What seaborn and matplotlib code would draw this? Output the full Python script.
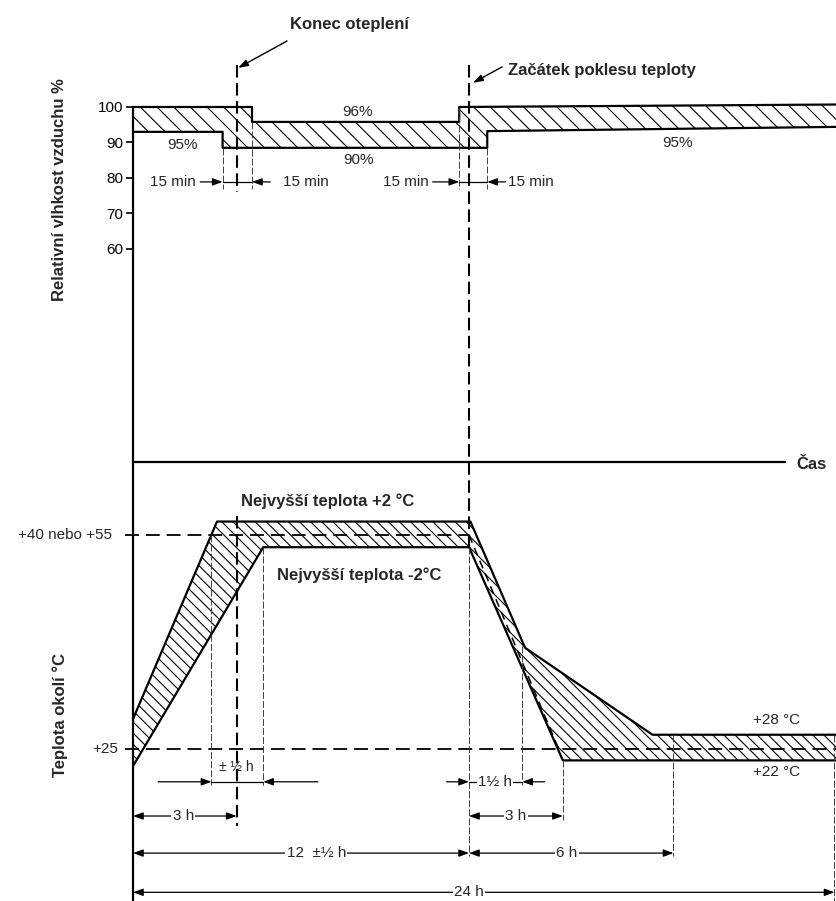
import numpy as np
import pandas as pd
import seaborn as sns
import matplotlib.pyplot as plt

# values (time axis is schematic, in hours)
# relative humidity envelope (%)
rh_upper_t = [0, 4.25, 4.25, 11.65, 11.65, 25.14]
rh_upper = [100, 100, 95.8, 95.8, 100, 100.7]
rh_lower_t = [0, 3.2, 3.2, 12.65, 12.65, 25.14]
rh_lower = [93.0, 93.0, 88.5, 88.5, 93.2, 94.4]
rh_ticks = [60, 70, 80, 90, 100]

# ambient temperature envelope (°C)
temp_upper_t = [0, 3.0, 12.05, 14.0, 18.55, 25.14]
temp_upper = [29.2, 56.9, 56.9, 39.2, 27.0, 27.0]
temp_lower_t = [0, 4.65, 12.0, 15.35, 25.14]
temp_lower = [22.6, 53.3, 53.3, 23.4, 23.4]
temp_nominal_t = [12.0, 15.2]
temp_nominal = [55, 25]
temp_levels = [55, 25]
temp_level_labels = ['+40 nebo +55', '+25']

t_warm_end = 3.7      # Konec oteplení
t_cool_start = 12.0   # Začátek poklesu teploty

sns.set_theme(style="white")
plt.rcParams['font.family'] = ['Liberation Sans', 'DejaVu Sans']
plt.rcParams['hatch.linewidth'] = 0.8
plt.rcParams['lines.scale_dashes'] = False

fig = plt.figure(figsize=(8.37, 9.01), dpi=100)
pos = [133/837, 0, 704/837, 1]
ax_h = fig.add_axes(pos)
ax_t = fig.add_axes(pos)
ax_t.patch.set_visible(False)

DASH = (0, (10, 5))
VDASH = (0, (9, 4))
THIN = (0, (5, 1.5))
BOLD = dict(fontsize=12, fontweight='bold')
SMALL = dict(fontsize=11)

def dim(ax, x0, x1, y, style='<|-|>'):
    ax.annotate('', xy=(x1, y), xytext=(x0, y), annotation_clip=False,
                arrowprops=dict(arrowstyle=style + ',head_length=0.6,head_width=0.22',
                                mutation_scale=10, color='black', lw=0.9,
                                shrinkA=0, shrinkB=0))

def label(ax, x, y, s, **kw):
    ax.text(x, y, s, ha='center', va='center', fontsize=11,
            bbox=dict(fc='white', ec='none', pad=1), zorder=5, **kw)

#######################################################################################
# Relative humidity
#######################################################################################
ax_h.fill(rh_upper_t + rh_lower_t[::-1], rh_upper + rh_lower[::-1],
          facecolor='none', edgecolor='black', hatch='\\\\', linewidth=0)
sns.lineplot(x=rh_upper_t, y=rh_upper, sort=False, estimator=None, color='black', lw=1.6, ax=ax_h)
sns.lineplot(x=rh_lower_t, y=rh_lower, sort=False, estimator=None, color='black', lw=1.6, ax=ax_h)

# extension lines and 15 min dimensions
for t, y0 in [(3.2, 88.5), (4.25, 95.8), (11.65, 100), (12.65, 88.5)]:
    ax_h.plot([t, t], [y0, 77.0], color='0.25', lw=0.7, ls=THIN)
ax_h.plot([t_warm_end, t_warm_end], [111.8, 76.1], color='black', lw=1.5, ls=VDASH)
for a, b, c, d in [(2.4, 3.2, 4.9, 4.25), (10.7, 11.65, 13.3, 12.65)]:
    dim(ax_h, a, b, 78.9, '-|>')
    dim(ax_h, c, d, 78.9, '-|>')
    ax_h.plot([b, d], [78.9, 78.9], color='black', lw=0.9)
ax_h.text(2.25, 78.9, '15 min', ha='right', va='center', **SMALL)
ax_h.text(5.35, 78.9, '15 min', ha='left', va='center', **SMALL)
ax_h.text(10.55, 78.9, '15 min', ha='right', va='center', **SMALL)
ax_h.text(13.4, 78.9, '15 min', ha='left', va='center', **SMALL)

ax_h.text(8.0, 98.6, '96%', ha='center', va='center', **SMALL)
ax_h.text(8.05, 85.1, '90%', ha='center', va='center', **SMALL)
ax_h.text(1.75, 89.3, '95%', ha='center', va='center', **SMALL)
ax_h.text(19.45, 89.9, '95%', ha='center', va='center', **SMALL)

# leaders
ax_h.text(5.6, 123.1, 'Konec oteplení', ha='left', va='center', **BOLD)
ax_h.annotate('', xy=(3.75, 111.0), xytext=(5.5, 118.6), annotation_clip=False,
              arrowprops=dict(arrowstyle='-|>,head_length=0.6,head_width=0.2',
                              mutation_scale=10, color='black', lw=1.0, shrinkA=0, shrinkB=0))
ax_h.text(13.4, 110.4, 'Začátek poklesu teploty', ha='left', va='center', **BOLD)
ax_h.annotate('', xy=(12.14, 106.8), xytext=(13.18, 111.3), annotation_clip=False,
              arrowprops=dict(arrowstyle='-|>,head_length=0.6,head_width=0.2',
                              mutation_scale=10, color='black', lw=1.0, shrinkA=0, shrinkB=0))

# time axis
ax_h.plot([0, 23.3], [0, 0], color='black', lw=1.6)
ax_h.text(23.7, -0.8, 'Čas', ha='left', va='center', **BOLD)

ax_h.set_xlim(0, 25.14)
ax_h.set_ylim(-123.66, 130.14)
for s in ['top', 'right', 'bottom']:
    ax_h.spines[s].set_visible(False)
ax_h.spines['left'].set_bounds(-123.66, 100)
ax_h.spines['left'].set_linewidth(1.6)
ax_h.spines['left'].set_color('black')
ax_h.set_xticks([])
ax_h.set_yticks(rh_ticks)
ax_h.tick_params(axis='y', direction='out', length=5, width=1.2, pad=2,
                 labelsize=11, left=True, colors='black')
ax_h.set_ylabel('Relativní vlhkost vzduchu %', **BOLD)
ax_h.yaxis.set_label_coords(-0.1037, 1 - 190/901)
ax_h.yaxis.label.set_va('center')

#######################################################################################
# Ambient temperature
#######################################################################################
ax_t.fill(temp_upper_t + temp_lower_t[::-1], temp_upper + temp_lower[::-1],
          facecolor='none', edgecolor='black', hatch='\\\\\\', linewidth=0)
sns.lineplot(x=temp_upper_t, y=temp_upper, sort=False, estimator=None, color='black', lw=1.6, ax=ax_t)
sns.lineplot(x=temp_lower_t, y=temp_lower, sort=False, estimator=None, color='black', lw=1.6, ax=ax_t)

# nominal profile
ax_t.plot([-0.3, t_cool_start], [temp_levels[0]] * 2, color='black', lw=1.3, ls=DASH, clip_on=False)
ax_t.plot([-0.3, 25.14], [temp_levels[1]] * 2, color='black', lw=1.3, ls=DASH, clip_on=False)
ax_t.plot(temp_nominal_t, temp_nominal, color='black', lw=1.1, ls=(0, (6, 4)))
ax_t.text(-0.75, temp_levels[0], temp_level_labels[0], ha='right', va='center', **SMALL)
ax_t.text(-0.54, temp_levels[1], temp_level_labels[1], ha='right', va='center', **SMALL)

# vertical references
ax_t.plot([t_warm_end] * 2, [57.7, 14.2], color='black', lw=1.5, ls=VDASH)
ax_t.plot([t_cool_start] * 2, [120.9, 53.3], color='black', lw=1.5, ls=VDASH)
for t, y0, y1 in [(2.8, 55, 20.0), (4.65, 53.3, 20.0), (12.0, 53.3, 10.0), (13.9, 39.5, 19.9),
                  (15.35, 23.4, 15.1), (19.3, 27.0, 10.0), (25.05, 27.0, 3.68)]:
    ax_t.plot([t, t], [y0, y1], color='0.25', lw=0.7, ls=THIN)

# dimensions
dim(ax_t, 0.9, 2.8, 20.4, '-|>')
dim(ax_t, 6.6, 4.65, 20.4, '-|>')
ax_t.plot([2.8, 4.65], [20.4, 20.4], color='black', lw=0.9)
ax_t.text(3.7, 22.5, '± ½ h', ha='center', va='center', fontsize=10)
dim(ax_t, 11.2, 12.0, 20.4, '-|>')
dim(ax_t, 14.7, 13.9, 20.4, '-|>')
ax_t.plot([12.0, 13.9], [20.4, 20.4], color='black', lw=0.9)
label(ax_t, 12.93, 20.4, '1½ h')
dim(ax_t, 0, 3.7, 15.6)
label(ax_t, 1.8, 15.6, '3 h')
dim(ax_t, 12.0, 15.35, 15.6)
label(ax_t, 13.68, 15.6, '3 h')
dim(ax_t, 0, 12.0, 10.4)
label(ax_t, 6.55, 10.4, '12  ±½ h')
dim(ax_t, 12.0, 19.3, 10.4)
label(ax_t, 15.5, 10.4, '6 h')
dim(ax_t, 0, 25.05, 4.9)
label(ax_t, 12.0, 4.9, '24 h')

ax_t.text(3.85, 59.8, 'Nejvyšší teplota +2 °C', ha='left', va='center', **BOLD)
ax_t.text(5.15, 49.4, 'Nejvyšší teplota -2°C', ha='left', va='center', **BOLD)
ax_t.text(22.15, 29.1, '+28 °C', ha='left', va='center', **SMALL)
ax_t.text(22.15, 21.8, '+22 °C', ha='left', va='center', **SMALL)

ax_t.set_xlim(0, 25.14)
ax_t.set_ylim(3.68, 130.05)
for s in ax_t.spines.values():
    s.set_visible(False)
ax_t.set_xticks([])
ax_t.set_yticks([])
ax_t.set_ylabel('Teplota okolí °C', **BOLD)
ax_t.yaxis.set_label_coords(-0.1037, 1 - 715/901)
ax_t.yaxis.label.set_va('center')

fig.savefig('out.png', dpi=100)
